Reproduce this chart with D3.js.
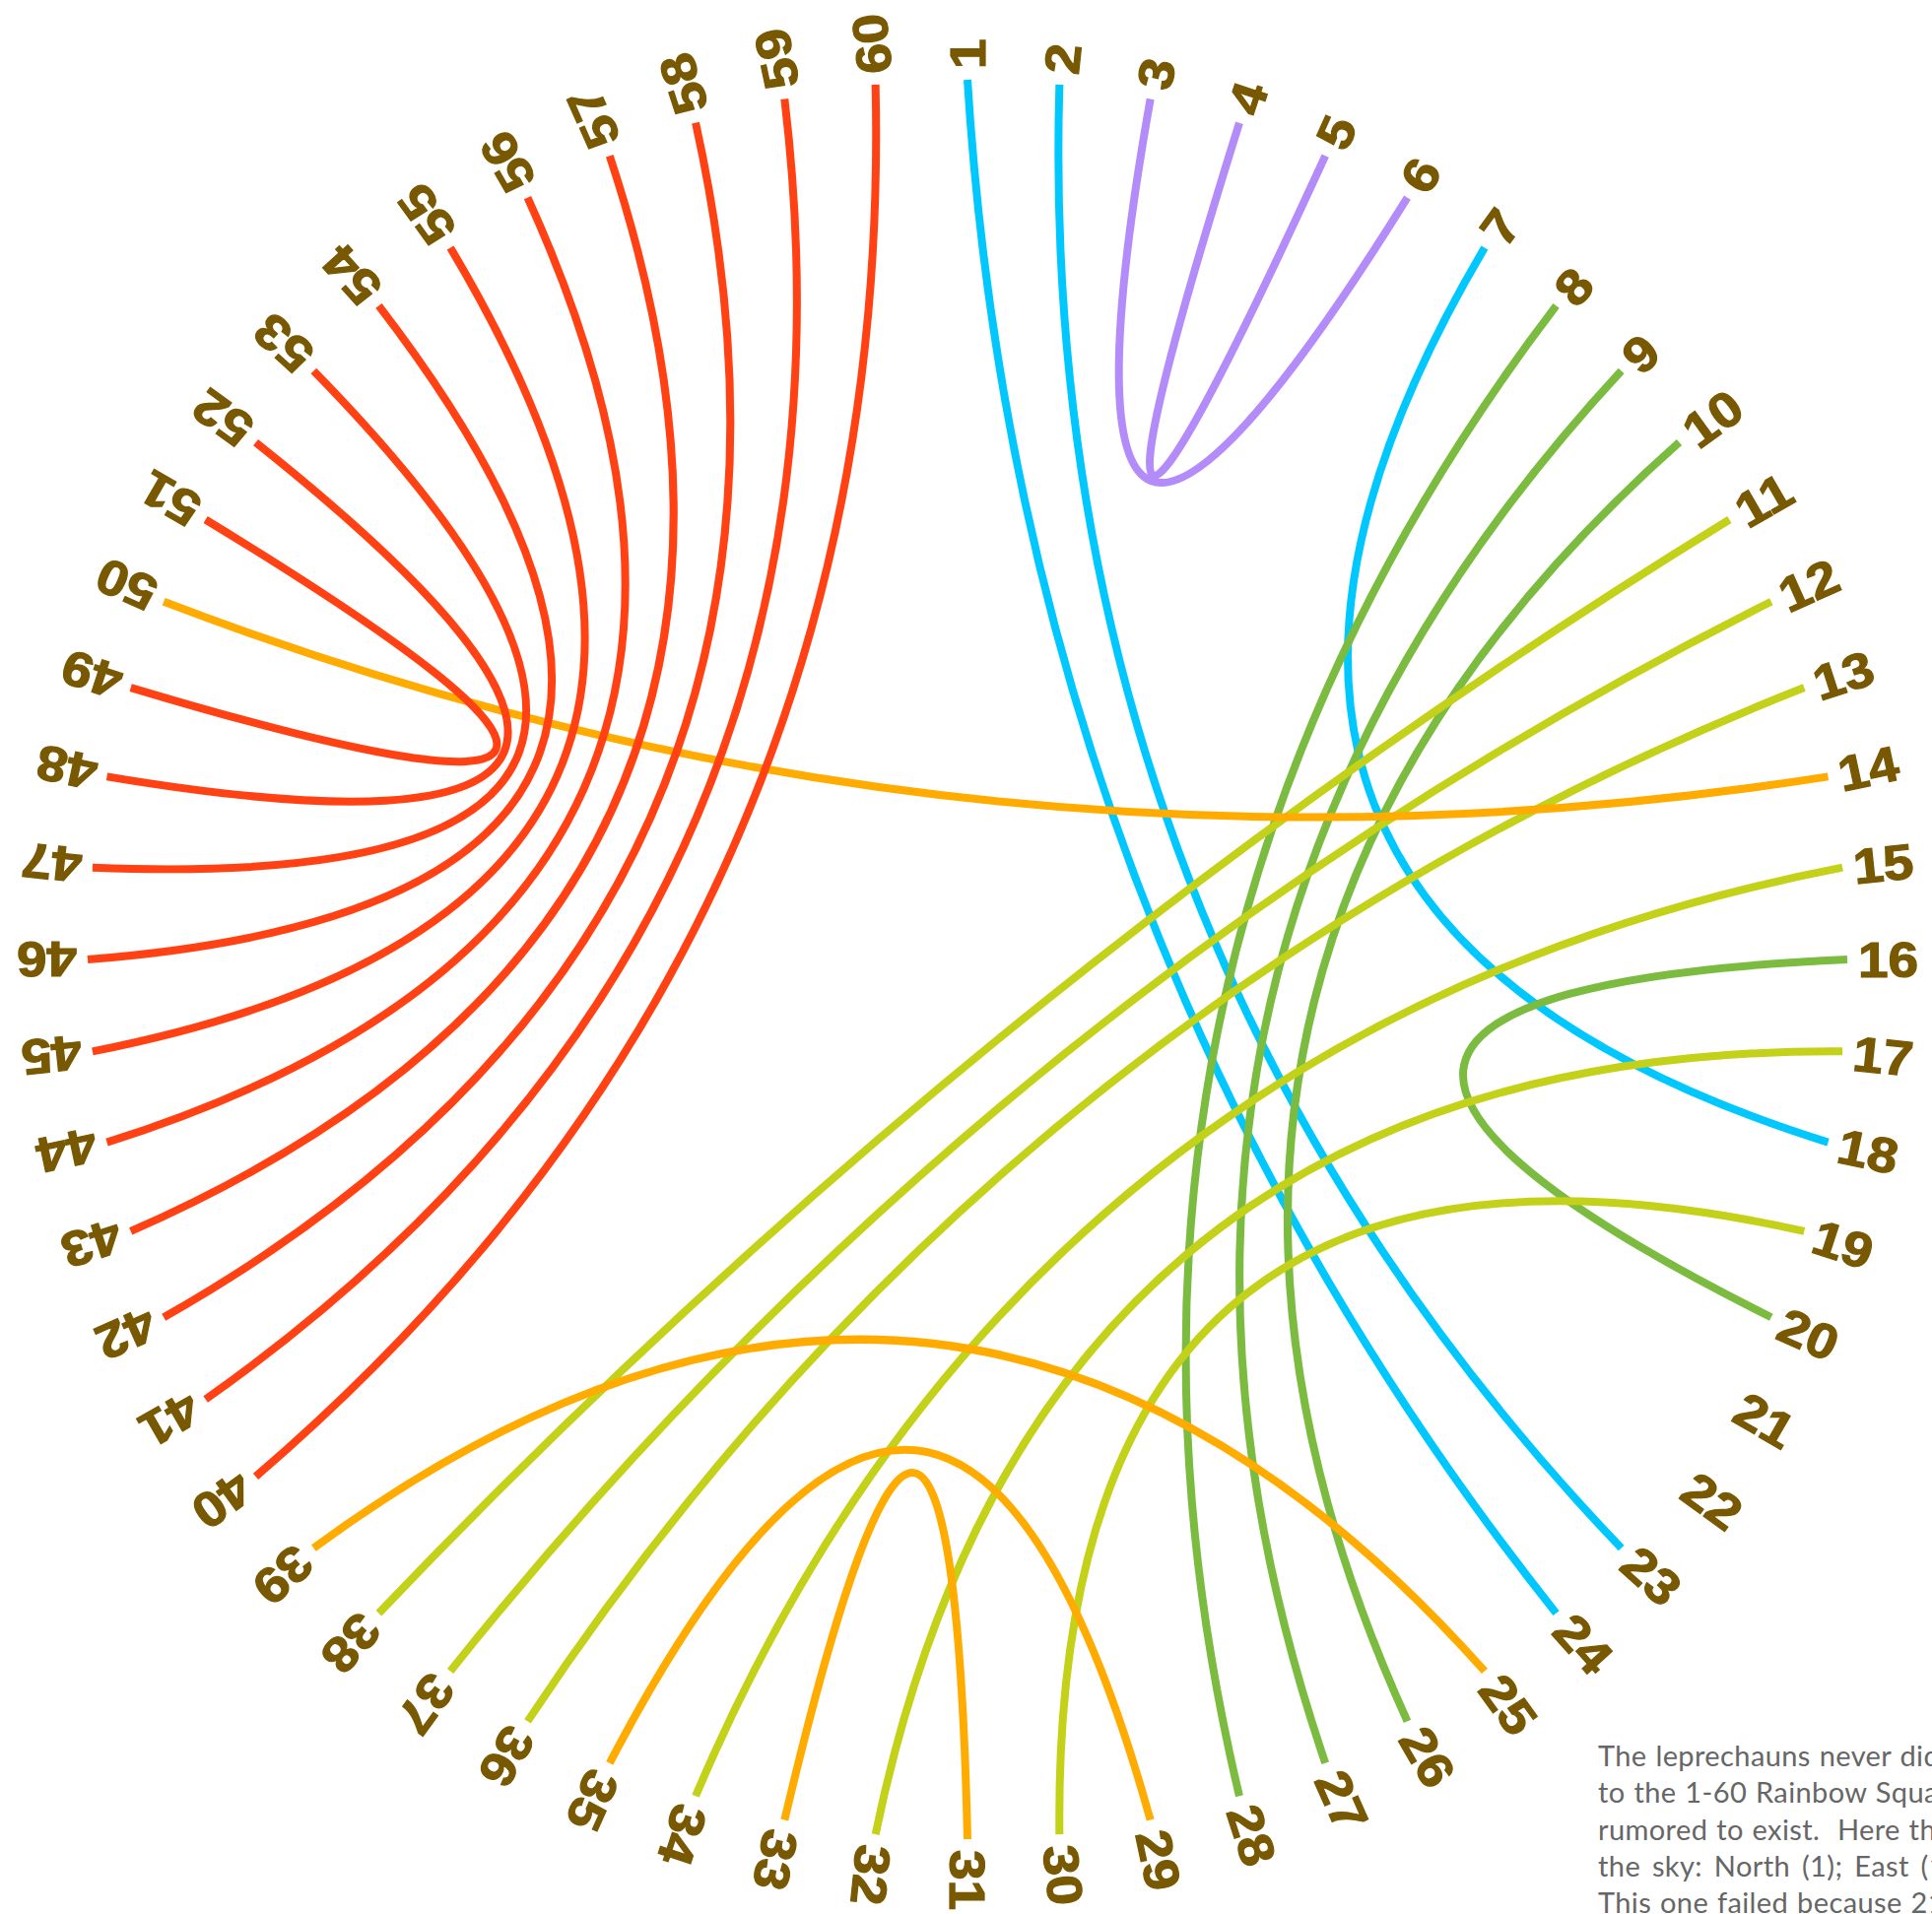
<!DOCTYPE html>
<html>
<head>
<meta charset="utf-8">
<script src="https://cdn.jsdelivr.net/npm/d3@7"></script>
<style>
  html, body { margin: 0; padding: 0; background: #ffffff; overflow: hidden; }
  svg { display: block; }
  .note { white-space: pre; }
</style>
</head>
<body>
<div id="chart"></div>
<script>
// ---- DATA ----
const pointLabels = [1,2,3,4,5,6,7,8,9,10,11,12,13,14,15,16,17,18,19,20,
  21,22,23,24,25,26,27,28,29,30,31,32,33,34,35,36,37,38,39,40,
  41,42,43,44,45,46,47,48,49,50,51,52,53,54,55,56,57,58,59,60];

const chordFrom  = [1, 2, 3, 4, 7, 8, 9, 10, 11, 12, 13, 14, 15, 16, 17, 19, 25, 29, 31, 40, 41, 42, 43, 44, 45, 46, 47, 48, 49];
const chordTo    = [24, 23, 6, 5, 18, 28, 27, 26, 38, 37, 36, 50, 34, 20, 32, 30, 39, 35, 33, 60, 59, 58, 57, 56, 55, 54, 53, 52, 51];
const chordGroup = ["cyan","cyan","purple","purple","cyan","green","green","green",
  "lime","lime","lime","orange","lime","green","lime","lime","orange","orange","orange",
  "red","red","red","red","red","red","red","red","red","red"];

const groupNames  = ["cyan","purple","green","lime","orange","red"];
const groupColors = ["#00c8ff","#b38cfa","#7bbc40","#c3d118","#ffab00","#ff4114"];

const noteLines = [
  "The leprechauns never did find a solution",
  "to the 1-60 Rainbow Square that was",
  "rumored to exist.  Here they mapped",
  "the sky: North (1); East (16); South (31); West (46).",
  "This one failed because 21-22 could not be joined."
];

// ---- LAYOUT ----
const W = 1961, H = 1943;
const cx = 982, cy = 974, R = 893;
const pull = 0.82;

const svg = d3.select("#chart").append("svg")
  .attr("width", W).attr("height", H);

const angle = d3.scaleLinear().domain([1, 61]).range([0, 2 * Math.PI]);
const color = d3.scaleOrdinal().domain(groupNames).range(groupColors);

function pos(i) {
  const a = angle(i);
  return [cx + R * Math.sin(a), cy - R * Math.cos(a)];
}

const chords = chordFrom.map((f, k) => ({ from: f, to: chordTo[k], group: chordGroup[k] }));

svg.append("g").selectAll("path")
  .data(chords)
  .join("path")
  .attr("d", d => {
    const p0 = pos(d.from), p1 = pos(d.to);
    const mx = (p0[0] + p1[0]) / 2, my = (p0[1] + p1[1]) / 2;
    const qx = mx + pull * (cx - mx), qy = my + pull * (cy - my);
    const p = d3.path();
    p.moveTo(p0[0], p0[1]);
    p.quadraticCurveTo(qx, qy, p1[0], p1[1]);
    return p.toString();
  })
  .attr("fill", "none")
  .attr("stroke", d => color(d.group))
  .attr("stroke-width", 8)
  .attr("stroke-linecap", "butt");

svg.append("g").selectAll("text")
  .data(pointLabels)
  .join("text")
  .attr("transform", d => `translate(${cx},${cy}) rotate(${angle(d) * 180 / Math.PI - 90}) translate(${R + 11},0) scale(1.1,1)`)
  .attr("dy", "0.36em")
  .attr("text-anchor", "start")
  .attr("font-family", "'Liberation Sans', Arial, sans-serif")
  .attr("font-weight", "bold")
  .attr("font-size", 50)
  .attr("fill", "#785800")
  .attr("stroke", "#785800")
  .attr("stroke-width", 1.2)
  .text(d => d);

svg.append("g").selectAll("text")
  .data(noteLines)
  .join("text")
  .attr("class", "note")
  .attr("x", 1622)
  .attr("y", (d, i) => 1793 + i * 37.3)
  .attr("font-family", "Lato, 'Open Sans', sans-serif")
  .attr("font-size", 29)
  .attr("letter-spacing", 0.4)
  .attr("fill", "#666666")
  .attr("word-spacing", (d, i) => i === 3 ? 4 : 1)
  .text(d => d);
</script>
</body>
</html>
